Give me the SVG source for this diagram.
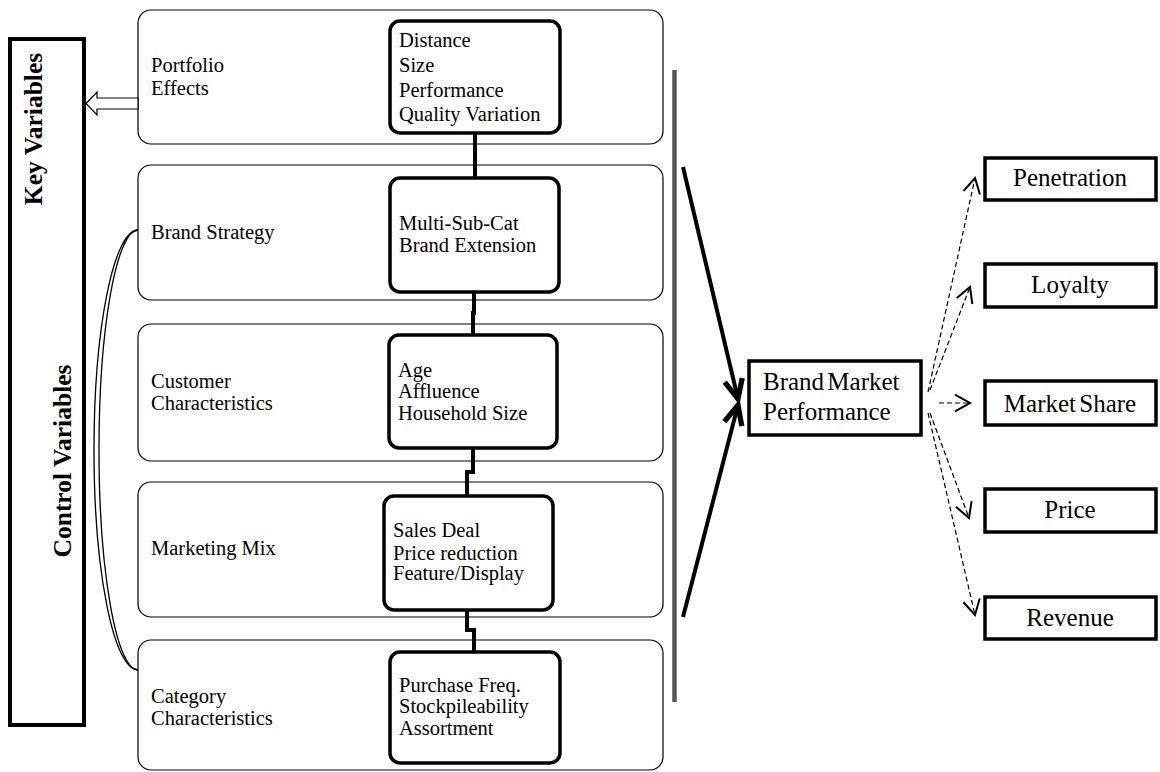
<svg xmlns="http://www.w3.org/2000/svg" width="1160" height="772" viewBox="0 0 1160 772">
  <style>
    .panel { fill: #fff; stroke: #000; stroke-width: 1.2; }
    .inner { fill: #fff; stroke: #000; stroke-width: 3.5; }
    .sq { fill: #fff; stroke: #000; stroke-width: 3.5; }
    .t { font-family: "Liberation Serif", "Times New Roman", serif; font-size: 20.5px; fill: #000; }
    .tl { font-family: "Liberation Serif", "Times New Roman", serif; font-size: 25px; fill: #000; }
    .tb { font-family: "Liberation Serif", "Times New Roman", serif; font-size: 25.5px; font-weight: bold; fill: #000; }
    .link { fill: none; stroke: #000; stroke-width: 4; }
    .big { fill: none; stroke: #000; stroke-width: 4; marker-end: url(#openHead); }
    .dash { fill: none; stroke: #000; stroke-width: 1.2; stroke-dasharray: 5 3; marker-end: url(#smallHead); }
  </style>
  <defs>
    <marker id="openHead" markerUnits="userSpaceOnUse" markerWidth="30" markerHeight="30" viewBox="-16 -10 20 20" refX="0" refY="0" orient="auto">
      <path d="M-13,-6 L0,0 L-13,6" fill="none" stroke="#000" stroke-width="3.5" stroke-linejoin="miter"/>
    </marker>
    <marker id="smallHead" markerUnits="userSpaceOnUse" markerWidth="20" markerHeight="20" viewBox="-10 -6 12 12" refX="0" refY="0" orient="auto">
      <path d="M-9,-5 L0,0 L-9,5" fill="none" stroke="#000" stroke-width="1.2"/>
    </marker>
  </defs>
  <rect width="1160" height="772" fill="#fff"/>

  <!-- side bar: key / control variables -->
  <g id="variables-bar">
    <rect x="10" y="39" width="74" height="686" fill="#fff" stroke="#000" stroke-width="4"/>
    <text class="tb" transform="translate(42,129) rotate(-90)" text-anchor="middle">Key Variables</text>
    <text class="tb" transform="translate(71,461) rotate(-90)" text-anchor="middle">Control Variables</text>
  </g>

  <!-- factor panels -->
  <g id="portfolio-effects">
    <rect class="panel" x="138" y="10" width="525" height="134" rx="13"/>
    <text class="t" x="151" y="72">Portfolio</text>
    <text class="t" x="151" y="95">Effects</text>
  </g>
  <g id="brand-strategy">
    <rect class="panel" x="138" y="165" width="525" height="135" rx="13"/>
    <text class="t" x="151" y="239">Brand Strategy</text>
  </g>
  <g id="customer-characteristics">
    <rect class="panel" x="138" y="324" width="525" height="137" rx="13"/>
    <text class="t" x="151" y="388">Customer</text>
    <text class="t" x="151" y="410">Characteristics</text>
  </g>
  <g id="marketing-mix">
    <rect class="panel" x="138" y="482" width="525" height="135" rx="13"/>
    <text class="t" x="151" y="555">Marketing Mix</text>
  </g>
  <g id="category-characteristics">
    <rect class="panel" x="138" y="640" width="525" height="130" rx="13"/>
    <text class="t" x="151" y="703">Category</text>
    <text class="t" x="151" y="725">Characteristics</text>
  </g>

  <!-- measure boxes -->
  <g id="portfolio-measures">
    <rect class="inner" x="390" y="21" width="170" height="112" rx="10"/>
    <text class="t" x="399" y="47">Distance</text>
    <text class="t" x="399" y="72">Size</text>
    <text class="t" x="399" y="97">Performance</text>
    <text class="t" x="399" y="121">Quality Variation</text>
  </g>
  <g id="strategy-measures">
    <rect class="inner" x="390" y="178" width="169" height="114" rx="10"/>
    <text class="t" x="399" y="230">Multi-Sub-Cat</text>
    <text class="t" x="399" y="252">Brand Extension</text>
  </g>
  <g id="customer-measures">
    <rect class="inner" x="389" y="335" width="168" height="113" rx="10"/>
    <text class="t" x="398" y="377">Age</text>
    <text class="t" x="398" y="398">Affluence</text>
    <text class="t" x="398" y="420">Household Size</text>
  </g>
  <g id="marketing-measures">
    <rect class="inner" x="384" y="496" width="169" height="114" rx="10"/>
    <text class="t" x="393" y="537">Sales Deal</text>
    <text class="t" x="393" y="560">Price reduction</text>
    <text class="t" x="393" y="580">Feature/Display</text>
  </g>
  <g id="category-measures">
    <rect class="inner" x="390" y="652" width="170" height="111" rx="10"/>
    <text class="t" x="399" y="692">Purchase Freq.</text>
    <text class="t" x="399" y="713">Stockpileability</text>
    <text class="t" x="399" y="735">Assortment</text>
  </g>

  <!-- outcome -->
  <g id="brand-market-performance">
    <rect class="sq" x="749" y="361" width="172" height="74"/>
    <text class="tl" x="763" y="390" word-spacing="-3">Brand Market</text>
    <text class="tl" x="763" y="420">Performance</text>
  </g>
  <g id="penetration">
    <rect class="sq" x="985" y="158" width="171" height="42"/>
    <text class="tl" x="1070" y="186" text-anchor="middle">Penetration</text>
  </g>
  <g id="loyalty">
    <rect class="sq" x="985" y="264" width="171" height="43"/>
    <text class="tl" x="1070" y="293" text-anchor="middle">Loyalty</text>
  </g>
  <g id="market-share">
    <rect class="sq" x="985" y="381" width="171" height="44"/>
    <text class="tl" x="1070" y="412" text-anchor="middle" word-spacing="-3">Market Share</text>
  </g>
  <g id="price">
    <rect class="sq" x="985" y="489" width="171" height="43"/>
    <text class="tl" x="1070" y="518" text-anchor="middle">Price</text>
  </g>
  <g id="revenue">
    <rect class="sq" x="985" y="597" width="171" height="42"/>
    <text class="tl" x="1070" y="626" text-anchor="middle">Revenue</text>
  </g>

  <!-- connectors -->
  <g id="connectors">
    <!-- chain between measure boxes -->
    <path class="link" d="M475,133 V178"/>
    <path class="link" d="M474,292 V313 H473 V335"/>
    <path class="link" d="M473,448 V472 H467 V496"/>
    <path class="link" d="M467,610 V630 H474 V652"/>
    <!-- hollow arrow to key variables -->
    <polygon points="138,98 97,98 97,92 86,103.5 97,115 97,109 138,109" fill="#fff" stroke="#000" stroke-width="1.2"/>
    <!-- double bracket over control panels -->
    <path d="M138,230 A44,220 0 0 0 138,670" fill="none" stroke="#000" stroke-width="1.3"/>
    <path d="M138,230 A39,220 0 0 0 138,670" fill="none" stroke="#000" stroke-width="1.3"/>
    <!-- grouping bar -->
    <line x1="674.5" y1="70" x2="674.5" y2="702" stroke="#555" stroke-width="4.5"/>
    <!-- into brand market performance -->
    <path class="big" d="M683,167 L738,399"/>
    <path class="big" d="M683,617 L738,405"/>
    <!-- out to outcome measures -->
    <path class="dash" d="M928,392 L975,178"/>
    <path class="dash" d="M930,390 L970,287"/>
    <path class="dash" d="M939,403 L970,403"/>
    <path class="dash" d="M930,413 L969,518"/>
    <path class="dash" d="M928,413 L975,615"/>
  </g>
</svg>
